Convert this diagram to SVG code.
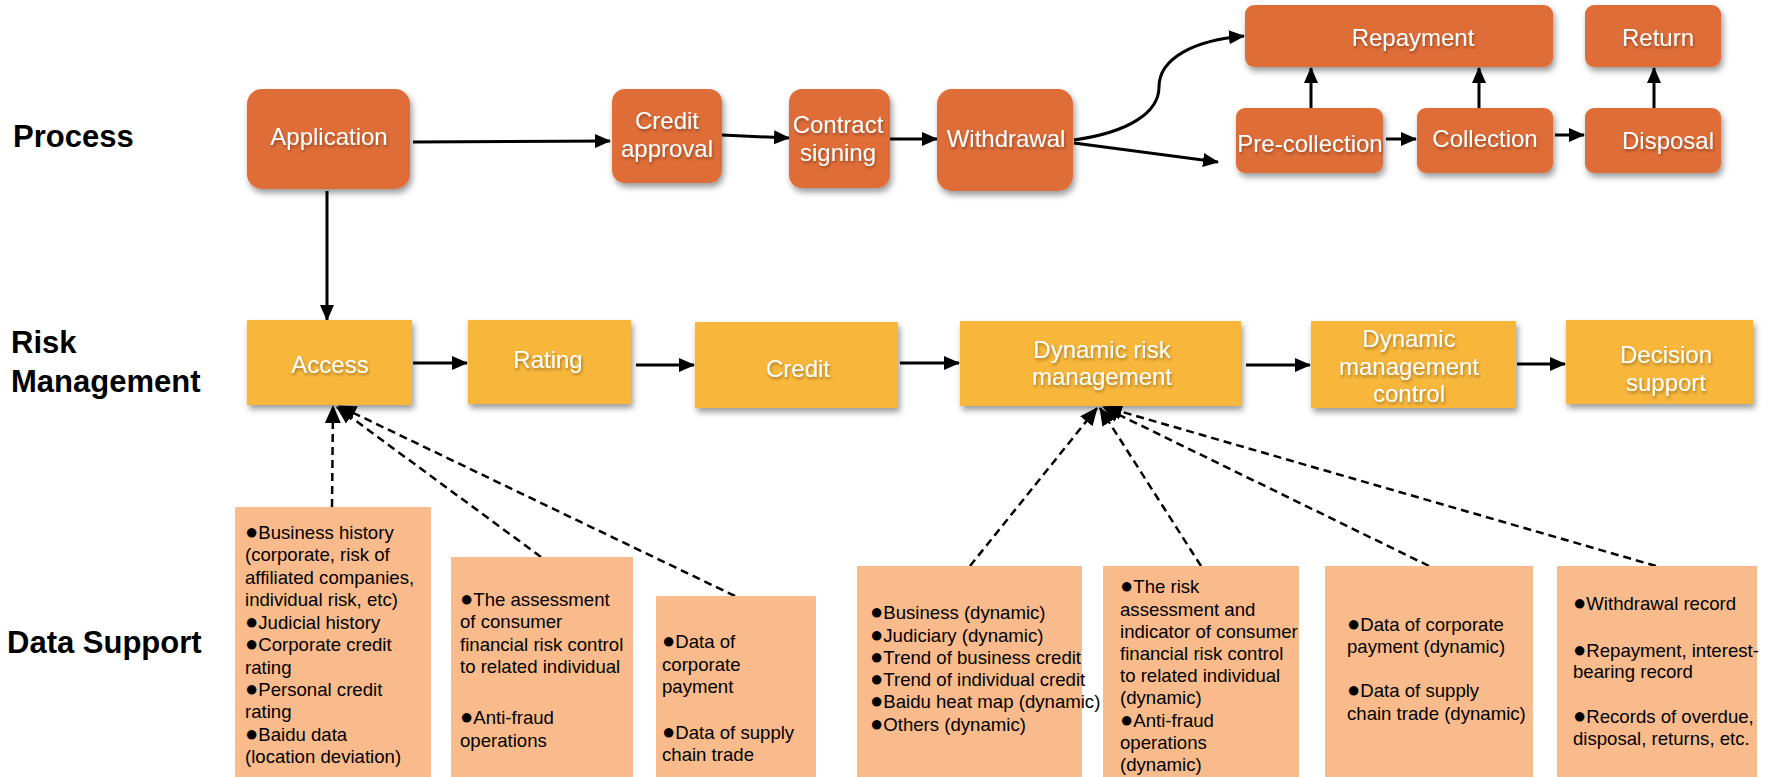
<svg xmlns="http://www.w3.org/2000/svg" width="1773" height="777" viewBox="0 0 1773 777">
<defs>
<filter id="shadow" x="-10%" y="-10%" width="125%" height="135%">
<feDropShadow dx="2" dy="4" stdDeviation="3" flood-color="#000" flood-opacity="0.4"/>
</filter>
<filter id="tshadow" x="-10%" y="-30%" width="120%" height="170%">
<feDropShadow dx="1" dy="2" stdDeviation="1.5" flood-color="#000" flood-opacity="0.35"/>
</filter>
<marker id="ah" markerUnits="userSpaceOnUse" markerWidth="16" markerHeight="16" viewBox="0 0 16 16" refX="15" refY="8" orient="auto">
<path d="M0,1 L16,8 L0,15 Z" fill="#000"/>
</marker>
<marker id="ahd" markerUnits="userSpaceOnUse" markerWidth="18" markerHeight="18" viewBox="0 0 18 18" refX="17" refY="9" orient="auto">
<path d="M0,1 L18,9 L0,17 Z" fill="#000"/>
</marker>
</defs>
<style>
.proc{fill:#DF6D37;filter:url(#shadow)}
.risk{fill:#F8B63A;filter:url(#shadow)}
.data{fill:#F9BB8B}
.nt{font-family:"Liberation Sans",Arial,sans-serif;font-size:24px;fill:#fff;text-anchor:middle;filter:url(#tshadow)}
.lab{font-family:"Liberation Sans",Arial,sans-serif;font-size:31px;font-weight:bold;fill:#000}
.dt{font-family:"Liberation Sans",Arial,"DejaVu Sans",sans-serif;font-size:18.6px;fill:#000}
.b{font-size:22px}
.ln{fill:none;stroke:#000;stroke-width:3;marker-end:url(#ah)}
.dl{fill:none;stroke:#000;stroke-width:2.5;stroke-dasharray:8,5;marker-end:url(#ahd)}
</style>
<rect width="1773" height="777" fill="#fff"/>

<g id="labels">
<text class="lab" x="13" y="147">Process</text>
<text class="lab" x="11" y="353">Risk</text>
<text class="lab" x="11" y="392">Management</text>
<text class="lab" x="7" y="653">Data Support</text>
</g>

<g id="connectors">
<path class="ln" d="M413,142 L610,141"/>
<path class="ln" d="M722,135 L789,138"/>
<path class="ln" d="M890,139 L937,139"/>
<path class="ln" d="M1074,140 C1130,132 1159,112 1159,87 C1159,58 1195,40 1244,36"/>
<path class="ln" d="M1074,143 L1218,162"/>
<path class="ln" d="M1311,108 L1311,68"/>
<path class="ln" d="M1479,108 L1479,68"/>
<path class="ln" d="M1654,108 L1654,68"/>
<path class="ln" d="M1386,139 L1416,139"/>
<path class="ln" d="M1555,135 L1584,135"/>
<path class="ln" d="M327,191 L327,320"/>
<path class="ln" d="M413,363 L467,363"/>
<path class="ln" d="M636,365 L694,365"/>
<path class="ln" d="M900,363 L959,363"/>
<path class="ln" d="M1246,365 L1310,365"/>
<path class="ln" d="M1517,364 L1565,364"/>
<path class="dl" d="M332,507 L333,406"/>
<path class="dl" d="M541,557 L337,407"/>
<path class="dl" d="M735,596 L339,406"/>
<path class="dl" d="M970,566 L1097,408"/>
<path class="dl" d="M1201,566 L1100,408"/>
<path class="dl" d="M1429,566 L1103,407"/>
<path class="dl" d="M1656,566 L1105,407"/>
</g>

<g id="application"><rect class="proc" x="247" y="89" width="163" height="100" rx="15"/><text class="nt" x="329" y="145">Application</text></g>
<g id="credit-approval"><rect class="proc" x="612" y="89" width="110" height="94" rx="13"/><text class="nt" x="667" y="129">Credit</text><text class="nt" x="667" y="157">approval</text></g>
<g id="contract-signing"><rect class="proc" x="789" y="89" width="101" height="99" rx="13"/><text class="nt" x="838" y="133">Contract</text><text class="nt" x="838" y="161">signing</text></g>
<g id="withdrawal"><rect class="proc" x="937" y="89" width="136" height="102" rx="15"/><text class="nt" x="1006" y="147">Withdrawal</text></g>
<g id="repayment"><rect class="proc" x="1245" y="5" width="308" height="62" rx="9"/><text class="nt" x="1413" y="46">Repayment</text></g>
<g id="return"><rect class="proc" x="1585" y="5" width="136" height="62" rx="9"/><text class="nt" x="1658" y="46">Return</text></g>
<g id="pre-collection"><rect class="proc" x="1236" y="108" width="147" height="65" rx="9"/><text class="nt" x="1310" y="152">Pre-collection</text></g>
<g id="collection"><rect class="proc" x="1417" y="108" width="136" height="65" rx="9"/><text class="nt" x="1485" y="147">Collection</text></g>
<g id="disposal"><rect class="proc" x="1585" y="108" width="136" height="65" rx="9"/><text class="nt" x="1668" y="149">Disposal</text></g>

<g id="access"><rect class="risk" x="247" y="320" width="165" height="85"/><text class="nt" x="330" y="373">Access</text></g>
<g id="rating"><rect class="risk" x="468" y="320" width="163" height="84"/><text class="nt" x="548" y="368">Rating</text></g>
<g id="credit"><rect class="risk" x="695" y="322" width="203" height="86"/><text class="nt" x="798" y="377">Credit</text></g>
<g id="dynamic-risk-management"><rect class="risk" x="960" y="321" width="281" height="85"/><text class="nt" x="1102" y="358">Dynamic risk</text><text class="nt" x="1102" y="385">management</text></g>
<g id="dynamic-management-control"><rect class="risk" x="1311" y="321" width="205" height="87"/><text class="nt" x="1409" y="347">Dynamic</text><text class="nt" x="1409" y="375">management</text><text class="nt" x="1409" y="402">control</text></g>
<g id="decision-support"><rect class="risk" x="1566" y="320" width="187" height="84"/><text class="nt" x="1666" y="363">Decision</text><text class="nt" x="1666" y="391">support</text></g>

<g id="data-1"><rect class="data" x="235" y="507" width="196" height="270"/>
<text class="dt" x="245" y="539"><tspan class="b">●</tspan>Business history</text>
<text class="dt" x="245" y="561">(corporate, risk of</text>
<text class="dt" x="245" y="584">affiliated companies,</text>
<text class="dt" x="245" y="606"> individual risk, etc)</text>
<text class="dt" x="245" y="629"><tspan class="b">●</tspan>Judicial history</text>
<text class="dt" x="245" y="651"><tspan class="b">●</tspan>Corporate credit</text>
<text class="dt" x="245" y="674">rating</text>
<text class="dt" x="245" y="696"><tspan class="b">●</tspan>Personal credit</text>
<text class="dt" x="245" y="718">rating</text>
<text class="dt" x="245" y="741"><tspan class="b">●</tspan>Baidu data</text>
<text class="dt" x="245" y="763">(location deviation)</text>
</g>
<g id="data-2"><rect class="data" x="451" y="557" width="182" height="220"/>
<text class="dt" x="460" y="606"><tspan class="b">●</tspan>The assessment</text>
<text class="dt" x="460" y="628">of consumer</text>
<text class="dt" x="460" y="651">financial risk control</text>
<text class="dt" x="460" y="673">to related individual</text>
<text class="dt" x="460" y="724"><tspan class="b">●</tspan>Anti-fraud</text>
<text class="dt" x="460" y="747">operations</text>
</g>
<g id="data-3"><rect class="data" x="656" y="596" width="160" height="181"/>
<text class="dt" x="662" y="648"><tspan class="b">●</tspan>Data of</text>
<text class="dt" x="662" y="671">corporate</text>
<text class="dt" x="662" y="693">payment</text>
<text class="dt" x="662" y="739"><tspan class="b">●</tspan>Data of supply</text>
<text class="dt" x="662" y="761">chain trade</text>
</g>
<g id="data-4"><rect class="data" x="857" y="566" width="225" height="211"/>
<text class="dt" x="870" y="619"><tspan class="b">●</tspan>Business (dynamic)</text>
<text class="dt" x="870" y="642"><tspan class="b">●</tspan>Judiciary (dynamic)</text>
<text class="dt" x="870" y="664"><tspan class="b">●</tspan>Trend of business credit</text>
<text class="dt" x="870" y="686"><tspan class="b">●</tspan>Trend of individual credit</text>
<text class="dt" x="870" y="708"><tspan class="b">●</tspan>Baidu heat map (dynamic)</text>
<text class="dt" x="870" y="731"><tspan class="b">●</tspan>Others (dynamic)</text>
</g>
<g id="data-5"><rect class="data" x="1103" y="566" width="196" height="211"/>
<text class="dt" x="1120" y="593"><tspan class="b">●</tspan>The risk</text>
<text class="dt" x="1120" y="616">assessment and</text>
<text class="dt" x="1120" y="638">indicator of consumer</text>
<text class="dt" x="1120" y="660">financial risk control</text>
<text class="dt" x="1120" y="682">to related individual</text>
<text class="dt" x="1120" y="704">(dynamic)</text>
<text class="dt" x="1120" y="727"><tspan class="b">●</tspan>Anti-fraud</text>
<text class="dt" x="1120" y="749">operations</text>
<text class="dt" x="1120" y="771">(dynamic)</text>
</g>
<g id="data-6"><rect class="data" x="1325" y="566" width="208" height="211"/>
<text class="dt" x="1347" y="631"><tspan class="b">●</tspan>Data of corporate</text>
<text class="dt" x="1347" y="653">payment (dynamic)</text>
<text class="dt" x="1347" y="697"><tspan class="b">●</tspan>Data of supply</text>
<text class="dt" x="1347" y="720">chain trade (dynamic)</text>
</g>
<g id="data-7"><rect class="data" x="1557" y="566" width="200" height="211"/>
<text class="dt" x="1573" y="610"><tspan class="b">●</tspan>Withdrawal record</text>
<text class="dt" x="1573" y="657"><tspan class="b">●</tspan>Repayment, interest-</text>
<text class="dt" x="1573" y="678">bearing record</text>
<text class="dt" x="1573" y="723"><tspan class="b">●</tspan>Records of overdue,</text>
<text class="dt" x="1573" y="745">disposal, returns, etc.</text>
</g>
</svg>
